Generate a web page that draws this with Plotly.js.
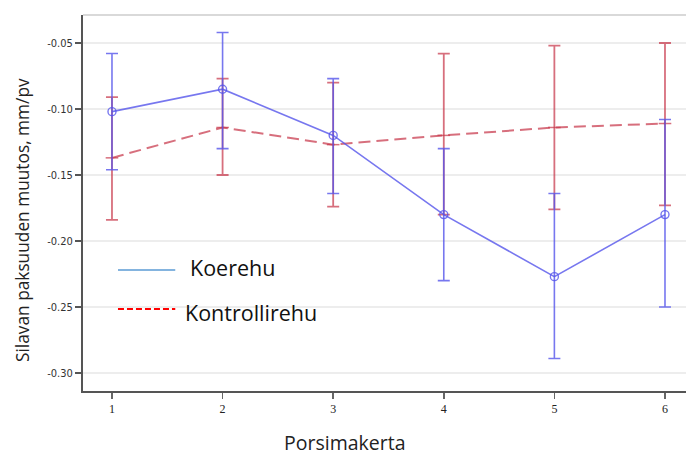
<!DOCTYPE html>
<html>
<head>
<meta charset="utf-8">
<script src="https://cdn.plot.ly/plotly-3.0.1.min.js"></script>
<style>html,body{margin:0;padding:0;background:#fff;}#chart{width:686px;height:455px;}</style>
</head>
<body>
<div id="chart"></div>
<script>
// Data
const kerta = [1, 2, 3, 4, 5, 6];
const koerehu = [-0.102, -0.085, -0.120, -0.180, -0.227, -0.180];
const koerehuUpper = [-0.058, -0.042, -0.077, -0.130, -0.164, -0.108];
const koerehuLower = [-0.146, -0.130, -0.164, -0.230, -0.289, -0.250];
const kontrolli = [-0.137, -0.114, -0.127, -0.120, -0.114, -0.111];
const kontrolliUpper = [-0.091, -0.077, -0.080, -0.058, -0.052, -0.050];
const kontrolliLower = [-0.184, -0.150, -0.174, -0.180, -0.176, -0.173];
const yTickVals = [-0.05, -0.10, -0.15, -0.20, -0.25, -0.30];
const yTickText = ['-0.05', '-0.10', '-0.15', '-0.20', '-0.25', '-0.30'];
const xTickText = ['1', '2', '3', '4', '5', '6'];
const seriesNames = ['Koerehu', 'Kontrollirehu'];

const up = (v, u) => u.map((x, i) => x - v[i]);
const dn = (v, l) => l.map((x, i) => v[i] - x);

const blue = 'rgba(85,85,235,0.8)';
const red = 'rgba(200,55,75,0.72)';

const traces = [
  {
    x: kerta, y: kontrolli, type: 'scatter', mode: 'lines+markers', name: seriesNames[1],
    line: {color: red, width: 2, dash: '12px,6px'},
    marker: {symbol: 'line-ew-open', size: 9, color: red, line: {color: red, width: 1.5}},
    error_y: {type: 'data', symmetric: false, array: up(kontrolli, kontrolliUpper), arrayminus: dn(kontrolli, kontrolliLower), color: red, thickness: 1.8, width: 6},
    showlegend: false
  },
  {
    x: kerta, y: koerehu, type: 'scatter', mode: 'lines+markers', name: seriesNames[0],
    line: {color: blue, width: 1.6},
    marker: {symbol: 'circle-open', size: 8, color: blue, line: {color: blue, width: 1.4}},
    error_y: {type: 'data', symmetric: false, array: up(koerehu, koerehuUpper), arrayminus: dn(koerehu, koerehuLower), color: blue, thickness: 1.6, width: 6},
    showlegend: false
  }
];

const layout = {
  width: 686, height: 455,
  margin: {l: 83, r: 0, t: 15, b: 64},
  paper_bgcolor: '#fff', plot_bgcolor: '#fff',
  showlegend: false,
  xaxis: {
    range: [0.738, 6.19], tickvals: kerta, ticktext: xTickText,
    showgrid: false, zeroline: false,
    showline: true, linecolor: '#555', linewidth: 2,
    ticks: 'outside', ticklen: 6, tickwidth: 1.5, tickcolor: '#666',
    tickfont: {family: 'Liberation Serif, serif', size: 12, color: '#222'}
  },
  yaxis: {
    range: [-0.3136, -0.0288], tickvals: yTickVals, ticktext: yTickText,
    showgrid: true, gridcolor: '#ededed', gridwidth: 1.5, zeroline: false,
    showline: true, linecolor: '#555', linewidth: 2,
    ticks: 'outside', ticklen: 6, tickwidth: 1.5, tickcolor: '#555',
    tickfont: {family: 'DejaVu Sans Condensed, DejaVu Sans, sans-serif', size: 11, color: '#333'}
  },
  shapes: [
    {type: 'line', xref: 'paper', yref: 'paper', x0: 0, x1: 1, y0: 1, y1: 1, line: {color: '#cccccc', width: 1.5}},
    {type: 'line', xref: 'paper', yref: 'paper', x0: 0.058, x1: 0.153, y0: 0.3218, y1: 0.3218, line: {color: '#5b9bd5', width: 1.5}},
    {type: 'line', xref: 'paper', yref: 'paper', x0: 0.058, x1: 0.153, y0: 0.2181, y1: 0.2181, line: {color: '#ff0000', width: 2, dash: '6px,3px'}}
  ],
  annotations: [
    {text: seriesNames[0], xref: 'paper', yref: 'paper', x: 0.174, y: 0.3297, xanchor: 'left', yanchor: 'middle', showarrow: false, font: {family: 'Open Sans, sans-serif', size: 21.5, color: '#111'}},
    {text: seriesNames[1], xref: 'paper', yref: 'paper', x: 0.166, y: 0.2101, xanchor: 'left', yanchor: 'middle', showarrow: false, font: {family: 'Open Sans, sans-serif', size: 21.5, color: '#111'}},
    {text: 'Porsimakerta', xref: 'paper', yref: 'paper', x: (345 - 83) / 603, y: -(442 - 391) / 376, xanchor: 'center', yanchor: 'middle', showarrow: false, font: {family: 'Open Sans, sans-serif', size: 19.5, color: '#222'}},
    {text: 'Silavan paksuuden muutos, mm/pv', xref: 'paper', yref: 'paper', x: -(83 - 22) / 603, y: (391 - 220) / 376, xanchor: 'center', yanchor: 'middle', textangle: -90, showarrow: false, font: {family: 'Open Sans, sans-serif', size: 17.3, color: '#222'}}
  ]
};

Plotly.newPlot('chart', traces, layout, {displayModeBar: false, staticPlot: true});
</script>
</body>
</html>
